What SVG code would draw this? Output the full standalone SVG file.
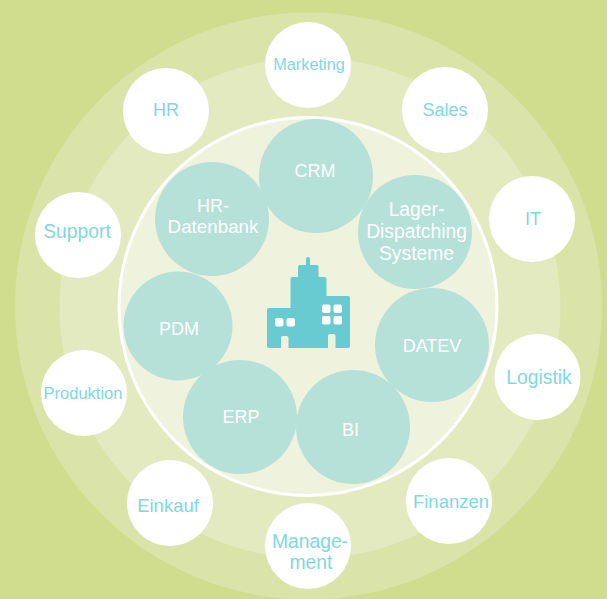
<svg xmlns="http://www.w3.org/2000/svg" width="607" height="599" viewBox="0 0 607 599">
<style>
text{font-family:"Liberation Sans",Arial,sans-serif;text-anchor:middle}
.o{fill:#fff}
.ot{fill:#7fd8de;font-size:18px}
.t{fill:#b5e1d8}
.tt{fill:#fff;font-size:18px}
.w{font-size:19.300px}
</style>
<rect width="607" height="599" fill="#d0dd8e"/>
<circle cx="308.500" cy="306" r="293.500" fill="#dae4a9"/>
<circle cx="310" cy="308" r="250.500" fill="#e3eac0"/>
<circle cx="308" cy="306.500" r="189" fill="#eff3de" stroke="#fff" stroke-width="3"/>
<g id="connectors"/>
<g id="building">
<path fill="#68cbd2" d="M306 259a2 2 0 0 1 4 0v6h6.500a2 2 0 0 1 2 2V277h6a2 2 0 0 1 2 2v17h21.500a2 2 0 0 1 2 2v48a2 2 0 0 1-2 2H269a2 2 0 0 1-2-2V310a2 2 0 0 1 2-2h21.500V279a2 2 0 0 1 2-2h5.500v-10a2 2 0 0 1 2-2h6z"/>
<g fill="#fff"><rect x="275" y="318" width="8.500" height="8.500" rx="2"/><rect x="286.500" y="318" width="8.500" height="8.500" rx="2"/><rect x="322" y="304.500" width="8.500" height="8.500" rx="2"/><rect x="333.500" y="304.500" width="8.500" height="8.500" rx="2"/><rect x="322" y="316" width="8.500" height="8.500" rx="2"/><rect x="333.500" y="316" width="8.500" height="8.500" rx="2"/></g>
<g fill="#eff3de"><path d="M281 348v-10a2 2 0 0 1 2-2h3.500a2 2 0 0 1 2 2v10z"/><path d="M328 348v-12a2 2 0 0 1 2-2h3.500a2 2 0 0 1 2 2v12z"/></g>
</g>
<g id="crm"><circle class="t" cx="316" cy="176" r="57"/><text class="tt" x="315" y="177">CRM</text></g>
<g id="lager"><circle class="t" cx="415" cy="232" r="57"/><text class="tt w" x="416.500" y="216">Lager-</text><text class="tt w" x="416.500" y="238">Dispatching</text><text class="tt w" x="416.500" y="260">Systeme</text></g>
<g id="datev"><circle class="t" cx="432" cy="345" r="57"/><text class="tt" x="432" y="352">DATEV</text></g>
<g id="bi"><circle class="t" cx="353" cy="427" r="57"/><text class="tt" x="350.500" y="436">BI</text></g>
<g id="erp"><circle class="t" cx="240" cy="417" r="57"/><text class="tt" x="241" y="423">ERP</text></g>
<g id="pdm"><circle class="t" cx="178" cy="326" r="54.500"/><text class="tt" x="179" y="335">PDM</text></g>
<g id="hrdb"><circle class="t" cx="212" cy="219" r="57"/><text class="tt" x="213" y="212">HR-</text><text class="tt" x="213" y="233" style="font-size:18.800px">Datenbank</text></g>
<g id="marketing"><circle class="o" cx="308" cy="65" r="43"/><text class="ot" x="309" y="70" style="font-size:16.300px">Marketing</text></g>
<g id="sales"><circle class="o" cx="445" cy="110" r="43"/><text class="ot" x="445" y="116">Sales</text></g>
<g id="it"><circle class="o" cx="532" cy="219" r="43"/><text class="ot" x="533" y="225">IT</text></g>
<g id="logistik"><circle class="o" cx="537.500" cy="377" r="43"/><text class="ot w" x="539" y="384">Logistik</text></g>
<g id="finanzen"><circle class="o" cx="449" cy="501" r="43"/><text class="ot" x="451" y="508" style="font-size:18.500px">Finanzen</text></g>
<g id="management"><circle class="o" cx="308" cy="546" r="43"/><text class="ot w" x="310" y="548">Manage-</text><text class="ot w" x="311" y="569">ment</text></g>
<g id="einkauf"><circle class="o" cx="170" cy="503" r="43"/><text class="ot" x="168" y="512" style="font-size:18.500px">Einkauf</text></g>
<g id="produktion"><circle class="o" cx="84" cy="393" r="43"/><text class="ot" x="83" y="399" style="font-size:16.500px">Produktion</text></g>
<g id="support"><circle class="o" cx="78" cy="235" r="43"/><text class="ot w" x="77" y="238">Support</text></g>
<g id="hr"><circle class="o" cx="166" cy="111" r="43"/><text class="ot" x="166" y="116">HR</text></g>
</svg>
